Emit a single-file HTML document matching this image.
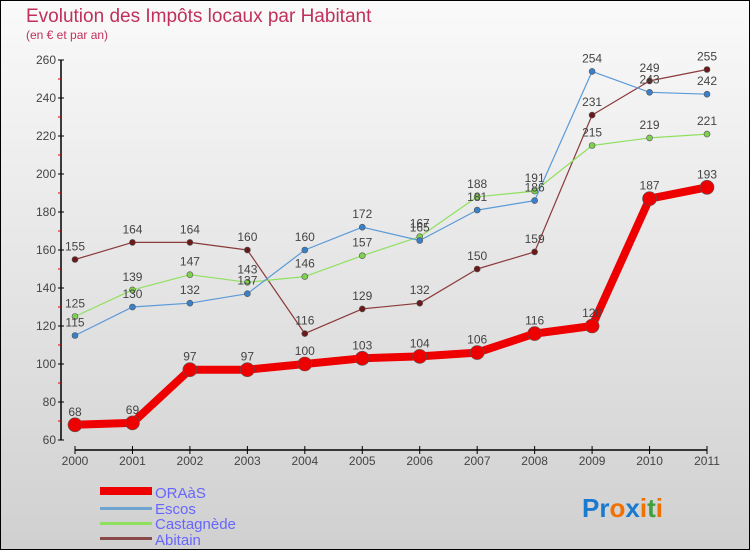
<!DOCTYPE html>
<html><head><meta charset="utf-8"><style>
body{margin:0}
#c{position:relative;width:750px;height:550px;box-sizing:border-box;border:1px solid #000;background:linear-gradient(#fafafa,#d0d0d0);font-family:"Liberation Sans",sans-serif;overflow:hidden}
</style></head><body>
<div id="c">
<svg id="s" width="750" height="550" style="position:absolute;left:-1px;top:-1px">
<text x="26" y="22" font-size="19" fill="#c0305a">Evolution des Impôts locaux par Habitant</text>
<text x="26" y="39" font-size="12" fill="#c0305a">(en € et par an)</text>
<g id="axes"></g><g id="series"></g>
<g>
<rect x="100" y="487" width="52" height="8" fill="#e00"/>
<text x="155" y="498" font-size="15" fill="#6666ff">ORAàS</text>
<rect x="100" y="507" width="52" height="3" fill="#6fa3d0"/>
<text x="155" y="514" font-size="15" fill="#6666ff">Escos</text>
<rect x="100" y="522" width="52" height="3" fill="#90e060"/>
<text x="155" y="529" font-size="15" fill="#6666ff">Castagnède</text>
<rect x="100" y="537" width="52" height="3" fill="#8a4a4a"/>
<text x="155" y="545" font-size="15" fill="#6666ff">Abitain</text>
</g>
<text x="582" y="517" font-size="26" font-weight="bold"><tspan fill="#1a7ad0">Pr</tspan><tspan fill="#f07000">o</tspan><tspan fill="#1a7ad0">x</tspan><tspan fill="#f07000">i</tspan><tspan fill="#40a040">t</tspan><tspan fill="#f07000">i</tspan></text>
</svg>
</div>
<script>
const years=["2000","2001","2002","2003","2004","2005","2006","2007","2008","2009","2010","2011"];
const oraas=[68,69,97,97,100,103,104,106,116,120,187,193];
const escos=[115,130,132,137,160,172,165,181,186,254,243,242];
const castagnede=[125,139,147,143,146,157,167,188,191,215,219,221];
const abitain=[155,164,164,160,116,129,132,150,159,231,249,255];
const yTicks=[60,80,100,120,140,160,180,200,220,240,260];
const NS="http://www.w3.org/2000/svg";
const X=i=>75+i*(707-75)/11, Y=v=>440-(v-60)*1.9;
function mk(t,a,p){const e=document.createElementNS(NS,t);for(const k in a)e.setAttribute(k,a[k]);p.appendChild(e);return e;}
const ax=document.getElementById('axes'), sg=document.getElementById('series');
let l=mk('line',{x1:61,y1:Y(260),x2:61,y2:Y(60),stroke:'#000','stroke-width':1.5},ax);

l=mk('line',{x1:75,y1:450,x2:707,y2:450,stroke:'#000','stroke-width':1.5},ax);

yTicks.forEach(v=>{
 mk('line',{x1:58,y1:Y(v),x2:64,y2:Y(v),stroke:'#000'},ax);
 if(v<260)mk('line',{x1:58,y1:Y(v+10),x2:61,y2:Y(v+10),stroke:'#d00'},ax);
 const t=mk('text',{x:56,y:Y(v)+4,'font-size':12,fill:'#444','text-anchor':'end'},ax);t.textContent=v;
 
});
years.forEach((y,i)=>{
 mk('line',{x1:X(i),y1:446,x2:X(i),y2:454,stroke:'#000'},ax);
 const t=mk('text',{x:X(i),y:465,'font-size':12,fill:'#444','text-anchor':'middle'},ax);t.textContent=y;
 
});
function series(d,col,w,r,name,dot){
 const g=mk('g',{},sg);
 mk('polyline',{points:d.map((v,i)=>X(i)+','+Y(v)).join(' '),fill:'none',stroke:col,'stroke-width':w,'stroke-linejoin':'round'},g);
 d.forEach((v,i)=>{
  const c=mk('circle',{cx:X(i),cy:Y(v),r:r,fill:dot,stroke:'#555','stroke-width':0.6},g);
  
  const t=mk('text',{x:X(i),y:Y(v)-9,'font-size':12,fill:'#444','text-anchor':'middle'},g);t.textContent=v;
  
 });
}
series(abitain,'#8a3a3a',1.2,3,'abitain','#6a1a1a');
series(castagnede,'#90e060',1.2,3,'castagnede','#80d050');
series(escos,'#5a9ad8',1.2,3,'escos','#3a80c8');
series(oraas,'#ee0000',8,7,'oraas','#ee0000');
</script>
</body></html>
